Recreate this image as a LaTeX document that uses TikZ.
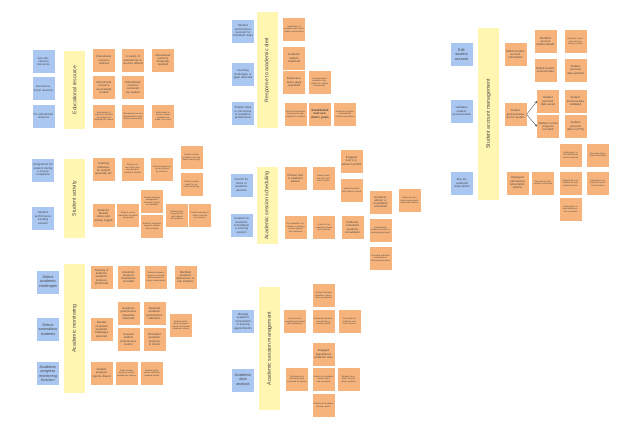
\documentclass[tikz,border=0pt]{standalone}
\usepackage{fontspec}
\setmainfont{Liberation Sans}
\usetikzlibrary{positioning,arrows.meta}
\definecolor{noteblue}{RGB}{170,199,242}
\definecolor{noteorange}{RGB}{246,180,124}
\definecolor{noteyellow}{RGB}{255,246,178}
\definecolor{notetext}{RGB}{70,70,70}
\tikzset{
  note/.style={rectangle, inner sep=1pt, outer sep=0pt, text width=20pt,
    minimum height=23pt, align=center, text=notetext},
  bluenote/.style={note, fill=noteblue, font=\fontsize{2.9}{3.4}\selectfont},
  bigbluenote/.style={note, fill=noteblue, font=\fontsize{3.8}{4.4}\selectfont},
  orangenote/.style={note, fill=noteorange, font=\fontsize{2.8}{3.3}\selectfont},
  smallnote/.style={note, fill=noteorange, font=\fontsize{2.1}{2.5}\selectfont},
  barlabel/.style={rectangle, fill=noteyellow, rotate=90, minimum height=21pt,
    inner sep=0pt, font=\fontsize{5.2}{6}\selectfont, text=notetext},
  flow/.style={-{Stealth[length=2.5pt,width=2pt]}, draw=notetext, line width=0.35pt}
}
\begin{document}
\begin{tikzpicture}[x=1pt, y=-1pt]
\useasboundingbox[fill=white] (0,0) rectangle (625,437);
% educational resource
\node[bluenote] (edu_list) at (43.5,61.5) {List educational resources};
\node[bluenote] (edu_get) at (43.5,88.5) {Get educational resource};
\node[bluenote] (edu_do) at (43.5,116) {Do educational resource};
\node[barlabel, minimum width=78pt] (edu_bar) at (74.5,90) {Educational resource};
\node[orangenote] (edu_ordered) at (104,60) {Educational resource ordered};
\node[orangenote, right=7pt of edu_ordered] (edu_variety) {A variety of educational resources offered};
\node[orangenote, right=8pt of edu_variety] (edu_reached) {Educational resource frequently reached};
\node[orangenote, below=4.5pt of edu_ordered] (edu_located) {Educational resource successfully located};
\node[orangenote, right=7pt of edu_located] (edu_accessed) {Educational resource accessed by student};
\node[smallnote, below=6pt of edu_located] (edu_selected) {Educational resource is selected by student and displayed for review};
\node[smallnote, right=7pt of edu_selected] (edu_download) {Educational resource downloaded to local device successfully};
\node[smallnote, right=8pt of edu_download] (edu_ready) {Educational resource content available and ready to be used};
% student activity
\node[bluenote] (act_assign) at (43,170) {Assignment for student during a course completion};
\node[bluenote] (act_track) at (43,218) {Student performance tracking session};
\node[barlabel, minimum width=79pt] (act_bar) at (74.5,198.5) {Student activity};
\node[orangenote] (act_path) at (103.5,169) {Learning pathways for student generally set};
\node[smallnote] (act_plan) at (132.5,169) {Custom student study plan recorded and created in Moodle};
\node[smallnote] (act_course) at (162,169) {Student progress in course tracked by instructor};
\node[smallnote] (act_log) at (191.5,157.5) {Student activity recorded in the academic learning log};
\node[smallnote] (act_report) at (191.5,184.5) {Student activity report for detailed monitoring};
\node[orangenote] (act_moodle) at (103.5,215.5) {Student's Moodle status and activity logged};
\node[smallnote] (act_submit) at (128,215.5) {Student course submission recorded and graded};
\node[smallnote] (act_lms) at (152,201.5) {Student learning management activities tracked and updated};
\node[smallnote] (act_verified) at (152,226) {Student's academic progress verified and recorded};
\node[smallnote] (act_goals) at (177,215.5) {Student learning goals set and aligned with progress};
\node[smallnote] (act_checked) at (200,215.5) {Student learning activities checked by instructor};
% academic monitoring
\node[bigbluenote] (mon_detect) at (48,282) {Detect academic challenges};
\node[bigbluenote] (mon_anom) at (48,329.5) {Detect anomalous students};
\node[bigbluenote] (mon_func) at (48,373.5) {Academic progress monitoring function};
\node[barlabel, minimum width=129pt] (mon_bar) at (74.5,328.5) {Academic monitoring};
\node[orangenote] (mon_tracking) at (101.5,277) {Tracking of student's academic progress performed};
\node[orangenote] (mon_eval) at (128.5,277) {Academic progress evaluations recorded};
\node[smallnote] (mon_review) at (156,277) {Student academic progress reviewed and compared to course expectations};
\node[orangenote] (mon_deficit) at (185.5,277) {Identified academic deficiencies or risk students};
\node[orangenote] (mon_results) at (101.5,329.5) {Results of student academic challenges detected};
\node[orangenote] (mon_measures) at (128.5,313.5) {Academic performance measures observed};
\node[orangenote] (mon_required) at (154.5,313.5) {Required academic performance indicators};
\node[orangenote] (mon_unusual) at (128.5,339.5) {Unusual student performance metrics};
\node[orangenote] (mon_trends) at (154.5,339.5) {Recorded academic progress in trends};
\node[smallnote] (mon_shared) at (181,325) {Student performance progress reports shared with academic advisor};
\node[orangenote] (mon_reports) at (101.5,373) {Student progress reports shared};
\node[smallnote] (mon_study) at (126.5,373) {Study student progress reports reviewed by advisor};
\node[smallnote] (mon_weekly) at (152,373) {Student performance indicators updated weekly};
% response to academic alert
\node[bluenote] (alert_perf) at (243,31) {Student performance received for individual steps};
\node[bluenote] (alert_gaps) at (243,74.5) {Learning challenges or gaps detected};
\node[bluenote] (alert_steps) at (243,113) {Simple steps or processes to academic performance};
\node[barlabel, minimum width=116pt] (alert_bar) at (267,70) {Response to academic alert};
\node[smallnote] (alert_notice) at (294,29) {Notification of academic alert about student performance};
\node[orangenote] (alert_setback) at (294,58) {Academic setback confirmed};
\node[orangenote] (alert_failed) at (294,82.5) {Failed academic gaps registered};
\node[smallnote] (alert_recommend) at (319.5,82.5) {Recommended academic intervention for student performance};
\node[smallnote] (alert_plan) at (295.5,114) {Structured academic improvement plan prepared for student};
\node[orangenote, font=\fontsize{3}{3.4}\selectfont\bfseries] (alert_goals) at (320,114) {Established new academic goals};
\node[smallnote] (alert_monitor) at (345,114) {Academic progress monitored by student and advisor};
% academic session scheduling
\node[bluenote] (sched_search) at (241.5,185) {Search for tutors or academic advisors};
\node[bluenote] (sched_create) at (241.5,225.5) {Created an academic consultation or tutoring session};
\node[barlabel, minimum width=77pt] (sched_bar) at (267,205.5) {Academic session scheduling};
\node[orangenote] (sched_tutor) at (295.5,178.5) {Chosen tutor or academic advisor};
\node[smallnote] (sched_slots) at (323.5,178.5) {Student available slots with tutor's profile};
\node[orangenote] (sched_engaged) at (351.5,161) {Engaged tutor's or advisor's profile};
\node[smallnote] (sched_selected) at (351.5,190) {Selected student with student's record};
\node[orangenote] (sched_booked) at (380.5,202) {Academic advisor or consultation scheduled};
\node[smallnote] (sched_prelim) at (409.5,200.5) {Preliminary academic assessment shared with advisor};
\node[smallnote] (sched_offered) at (295.5,227.5) {The academic consultation or tutoring session offered and confirmed};
\node[smallnote] (sched_time) at (324,227.5) {A time for the academic session was selected};
\node[orangenote] (sched_particular) at (352.5,227.5) {Particular scheduled academic consultation};
\node[smallnote] (sched_moved) at (380.5,230) {Rescheduled academic session or tutoring appointment};
\node[smallnote] (sched_cancel) at (380.5,258) {Cancelled academic consultation or tutoring appointment};
% academic session management
\node[bluenote] (mgmt_manage) at (243,321.5) {Manage academic consultation or tutoring appointments};
\node[bigbluenote] (mgmt_data) at (243,380) {Academic data analysis};
\node[barlabel, minimum width=123pt] (mgmt_bar) at (269.5,348.5) {Academic session management};
\node[smallnote] (mgmt_attended) at (323.5,295.5) {Student attended academic consultation as planned};
\node[smallnote] (mgmt_notes) at (295,321.5) {Session notes recorded and shared with participants};
\node[smallnote] (mgmt_evaluated) at (323.5,321.5) {Evaluated academic consultation or tutoring session};
\node[smallnote] (mgmt_outcome) at (349.5,321.5) {Recorded the academic session outcome};
\node[orangenote] (mgmt_slots) at (323.5,354) {Engaged appointment academic slots};
\node[smallnote] (mgmt_confirm) at (297,379) {Participation in tutoring session confirmed by advisor};
\node[smallnote] (mgmt_analysis) at (323.5,379) {Analysis of academic session data and outcomes};
\node[smallnote] (mgmt_history) at (348.5,379) {Student's academic session history updated};
\node[smallnote] (mgmt_reports) at (323.5,405.5) {Analysis of academic tutoring reports};
% student account management
\node[bigbluenote] (acc_edit) at (461.5,54.5) {Edit student account};
\node[bluenote] (acc_valid) at (461.5,111.5) {Validated student personal data};
\node[bluenote] (acc_buy) at (462,183.5) {Buy educational subscription};
\node[barlabel, minimum width=172pt] (acc_bar) at (488.5,114) {Student account management};
\node[orangenote] (acc_edited) at (515.5,54.5) {Edited student account information};
\node[orangenote] (acc_modified) at (545.5,41.5) {Modified account student details};
\node[orangenote] (acc_pers_edited) at (545.5,70) {Edited student personal data};
\node[smallnote] (acc_required) at (575.5,41.5) {Required corrections and consistency checks};
\node[orangenote] (acc_updated) at (575.5,70) {Student personal data updated};
\node[orangenote] (acc_sent) at (515.5,114.5) {Student personal data sent to system};
\node[orangenote] (acc_saved) at (548,101) {Student personal data saved};
\node[orangenote] (acc_progress) at (548,126.5) {Student current progress recorded};
\node[orangenote] (acc_validated) at (575.5,101) {Student personal data validated};
\node[orangenote] (acc_pts) at (575.5,126.5) {Student personal data in (PTS)};
\node[smallnote] (acc_sub_serv) at (570.5,155) {Subscription to the educational service selected};
\node[smallnote] (acc_renewed) at (598,155) {Renewed educational subscription};
\node[orangenote] (acc_displayed) at (517.5,183) {Displayed educational subscription options};
\node[smallnote] (acc_purchased) at (543,183) {Educational subscription purchased};
\node[smallnote] (acc_cancel_req) at (570.5,183) {Subscription cancellation for educational service};
\node[smallnote] (acc_sub_upd) at (598,183) {Subscription updated for educational services};
\node[smallnote] (acc_cancelled) at (570.5,209) {Subscription to educational service cancelled};
% arrows
\draw[flow] (acc_sent.east) -- (acc_saved.west);
\draw[flow] (acc_sent.east) -- (acc_progress.west);
\end{tikzpicture}
\end{document}
